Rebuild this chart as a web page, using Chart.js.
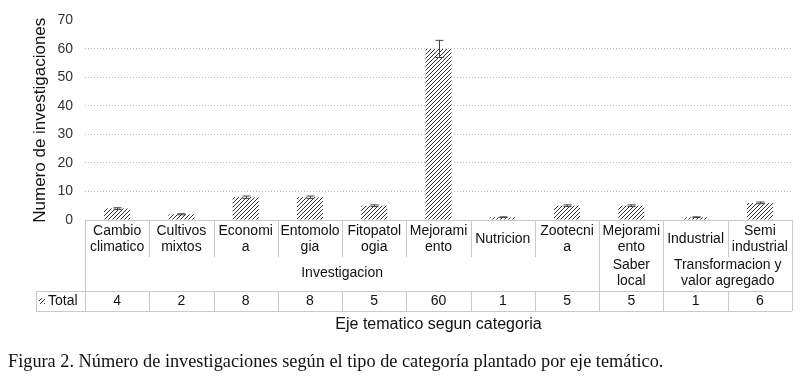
<!DOCTYPE html>
<html>
<head>
<meta charset="utf-8">
<script src="https://cdn.jsdelivr.net/npm/chart.js@4.4.0/dist/chart.umd.min.js"></script>
<style>
  body { margin: 0; background: #fff; }
  #wrap { position: relative; width: 807px; height: 383px; }
  #caption {
    position: absolute; left: 8px; top: 351px;
    font-family: "Liberation Serif", serif; font-size: 18.3px; color: #111;
    white-space: nowrap;
  }
</style>
</head>
<body>
<div id="wrap">
  <canvas id="chart" width="807" height="383"></canvas>
  <div id="caption">Figura 2. Número de investigaciones según el tipo de categoría plantado por eje temático.</div>
</div>
<script>
const categories = [
  ['Cambio', 'climatico'], ['Cultivos', 'mixtos'], ['Economi', 'a'], ['Entomolo', 'gia'],
  ['Fitopatol', 'ogia'], ['Mejorami', 'ento'], ['Nutricion'], ['Zootecni', 'a'],
  ['Mejorami', 'ento'], ['Industrial'], ['Semi', 'industrial']
];
const groups = [
  { label: ['Investigacion'], from: 0, to: 7 },
  { label: ['Saber', 'local'], from: 8, to: 8 },
  { label: ['Transformacion y', 'valor agregado'], from: 9, to: 10 }
];
const totals = [4, 2, 8, 8, 5, 60, 1, 5, 5, 1, 6];
const errors = [0.3, 0.2, 0.4, 0.4, 0.3, 3, 0.1, 0.3, 0.3, 0.1, 0.3];
const yTicks = [0, 10, 20, 30, 40, 50, 60, 70];

const font = '"Liberation Sans", Arial, sans-serif';
const lineColor = '#c9c9c9';

// diagonal hatch
function makeHatch() {
  const c = document.createElement('canvas');
  c.width = 4; c.height = 4;
  const g = c.getContext('2d');
  g.fillStyle = '#ffffff';
  g.fillRect(0, 0, 4, 4);
  g.fillStyle = '#333333';
  for (let i = 0; i < 4; i++) g.fillRect(i, 3 - i, 1, 1);
  return g.createPattern(c, 'repeat');
}
const hatch = makeHatch();

const errorBars = {
  id: 'errorBars',
  afterDatasetsDraw(chart) {
    const ctx = chart.ctx;
    const x = chart.scales.x, y = chart.scales.y;
    ctx.save();
    ctx.strokeStyle = '#404040';
    ctx.lineWidth = 1;
    totals.forEach((v, i) => {
      const px = Math.round(x.getPixelForValue(i)) + 0.5;
      const top = y.getPixelForValue(v + errors[i]);
      const bot = y.getPixelForValue(v - errors[i]);
      ctx.beginPath();
      ctx.moveTo(px, top); ctx.lineTo(px, bot);
      ctx.moveTo(px - 4, top); ctx.lineTo(px + 4, top);
      ctx.moveTo(px - 4, bot); ctx.lineTo(px + 4, bot);
      ctx.stroke();
    });
    ctx.restore();
  }
};

const dataTable = {
  id: 'dataTable',
  afterDraw(chart) {
    const ctx = chart.ctx;
    const area = chart.chartArea;
    const x = chart.scales.x;
    const n = categories.length;
    const w = (area.right - area.left) / n;
    const edge = i => area.left + i * w;
    const catTop = area.bottom, catBot = area.bottom + 37;
    const grpBot = area.bottom + 71, totBot = area.bottom + 91;
    const boxLeft = 36;
    ctx.save();
    ctx.strokeStyle = lineColor;
    ctx.lineWidth = 1;
    const hline = (x1, x2, yy) => { ctx.beginPath(); ctx.moveTo(x1, Math.round(yy) + 0.5); ctx.lineTo(x2, Math.round(yy) + 0.5); ctx.stroke(); };
    const vline = (xx, y1, y2) => { ctx.beginPath(); ctx.moveTo(Math.round(xx) + 0.5, y1); ctx.lineTo(Math.round(xx) + 0.5, y2); ctx.stroke(); };
    hline(area.left, area.right, catTop);
    hline(boxLeft, area.right, grpBot);
    hline(boxLeft, area.right, totBot);
    vline(boxLeft, grpBot, totBot);
    const groupEdges = new Set();
    groups.forEach(g => { groupEdges.add(g.from); groupEdges.add(g.to + 1); });
    for (let i = 0; i <= n; i++) {
      vline(edge(i), catTop, groupEdges.has(i) ? totBot : catBot);
      if (!groupEdges.has(i)) vline(edge(i), grpBot, totBot);
    }
    ctx.fillStyle = '#111';
    ctx.textAlign = 'center';
    ctx.textBaseline = 'middle';
    ctx.font = '14px ' + font;
    categories.forEach((lines, i) => {
      const cx = x.getPixelForValue(i);
      const y0 = area.bottom + 19 - (lines.length - 1) * 8;
      lines.forEach((t, k) => ctx.fillText(t, cx, y0 + k * 16));
    });
    groups.forEach(g => {
      const cx = (edge(g.from) + edge(g.to + 1)) / 2;
      const y0 = area.bottom + 53 - (g.label.length - 1) * 8;
      g.label.forEach((t, k) => ctx.fillText(t, cx, y0 + k * 16));
    });
    totals.forEach((v, i) => ctx.fillText(String(v), x.getPixelForValue(i), area.bottom + 81));
    ctx.textAlign = 'left';
    ctx.fillText('Total', 48, area.bottom + 81);
    ctx.fillStyle = hatch;
    ctx.fillRect(39, area.bottom + 78, 6, 6);
    ctx.fillStyle = '#111';
    ctx.textAlign = 'center';
    ctx.font = '16px ' + font;
    ctx.fillText('Eje tematico segun categoria', (area.left + area.right) / 2, area.bottom + 105);
    ctx.restore();
  }
};

new Chart(document.getElementById('chart'), {
  type: 'bar',
  data: {
    labels: categories,
    datasets: [{
      label: 'Total',
      data: totals,
      backgroundColor: hatch,
      borderWidth: 0,
      barPercentage: 0.405,
      categoryPercentage: 1
    }]
  },
  options: {
    responsive: false,
    animation: false,
    layout: { padding: { left: 0, right: 15, top: 20, bottom: 163 } },
    plugins: { legend: { display: false }, tooltip: { enabled: false } },
    scales: {
      x: { display: false },
      y: {
        min: 0, max: 70,
        afterFit(scale) { scale.width = 85; },
        afterBuildTicks(scale) { scale.ticks = yTicks.map(v => ({ value: v })); },
        border: { display: false, dash: [1, 2] },
        grid: {
          drawTicks: false,
          color: c => (c.tick.value === 0 || c.tick.value === 70) ? 'rgba(0,0,0,0)' : '#bdbdbd'
        },
        ticks: { color: '#333', font: { family: font, size: 14 }, padding: 12 },
        title: {
          display: true, text: 'Numero de investigaciones',
          color: '#111', font: { family: font, size: 17 }, padding: { top: 30, bottom: 0 }
        }
      }
    }
  },
  plugins: [errorBars, dataTable]
});
</script>
</body>
</html>
